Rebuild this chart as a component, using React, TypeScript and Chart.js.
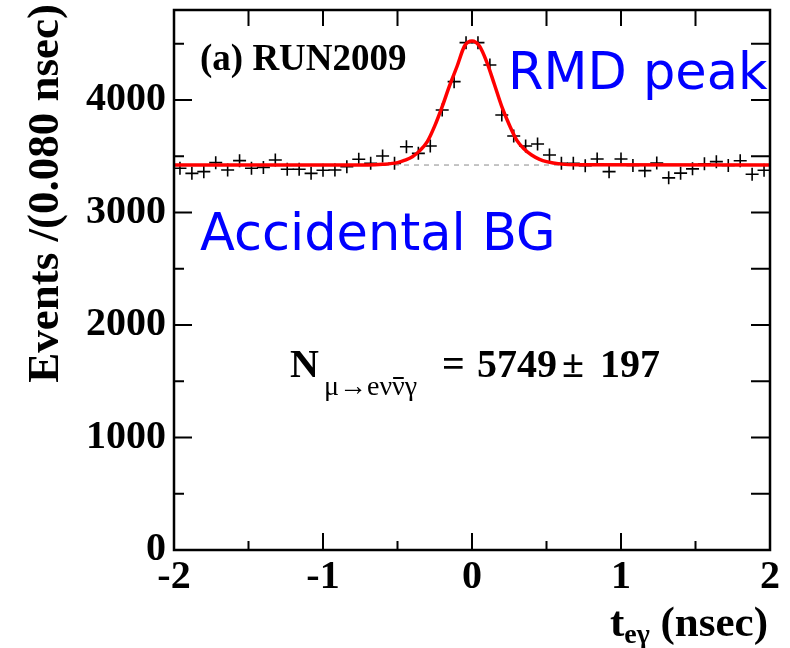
import React, { useEffect, useRef } from "react";
import { Chart, registerables } from "chart.js";

Chart.register(...registerables);

// ---- data ----
const binCenters = [
  -1.96, -1.88, -1.8, -1.72, -1.64, -1.56, -1.48, -1.4, -1.32, -1.24,
  -1.16, -1.08, -1.0, -0.92, -0.84, -0.76, -0.68, -0.6, -0.52, -0.44,
  -0.36, -0.28, -0.2, -0.12, -0.04, 0.04, 0.12, 0.2, 0.28, 0.36,
  0.44, 0.52, 0.6, 0.68, 0.76, 0.84, 0.92, 1.0, 1.08, 1.16,
  1.24, 1.32, 1.4, 1.48, 1.56, 1.64, 1.72, 1.8, 1.88, 1.96,
];
const eventCounts = [
  3393, 3348, 3363, 3443, 3378, 3461, 3393, 3401, 3467, 3384,
  3384, 3348, 3375, 3378, 3407, 3473, 3437, 3502, 3437, 3585,
  3526, 3591, 3911, 4163, 4510, 4510, 4311, 3867, 3680, 3591,
  3609, 3511, 3437, 3437, 3416, 3476, 3363, 3476, 3418, 3372,
  3440, 3308, 3350, 3388, 3434, 3452, 3418, 3460, 3340, 3375,
];
const fitX = [
  -2, -0.7, -0.6, -0.5, -0.45, -0.4, -0.35, -0.3, -0.25, -0.2, -0.15, -0.1, -0.05,
  0, 0.05, 0.1, 0.15, 0.2, 0.25, 0.3, 0.35, 0.4, 0.45, 0.5, 0.6, 0.7, 2,
];
const fitY = [
  3422, 3423, 3428, 3443, 3465, 3496, 3550, 3630, 3770, 3941, 4130, 4300, 4480,
  4525, 4480, 4335, 4140, 3941, 3780, 3644, 3565, 3511, 3475, 3452, 3430, 3424, 3422,
];
const baselineX = [-2, 2];
const baselineY = [3422, 3422];

const xMajorTicks = [-2, -1, 0, 1, 2];
const xMinorTicks = [-1.5, -0.5, 0.5, 1.5];
const yMajorTicks = [0, 1000, 2000, 3000, 4000];
const yMinorTicks = [500, 1500, 2500, 3500, 4500];
const xRange = [-2, 2];
const yRange = [0, 4800];

const SERIF = '"Liberation Serif", "DejaVu Serif", serif';
const SANS = '"DejaVu Sans", Verdana, sans-serif';

const rootPlugin = {
  id: "rootFrame",
  afterDraw(chart: any) {
    const { ctx, chartArea: a, scales } = chart;
    const x = scales.x;
    const y = scales.y;
    ctx.save();
    ctx.strokeStyle = "#000";
    // tick marks (inside)
    ctx.lineWidth = 2;
    ctx.beginPath();
    const tickX = (v: number, bottomLen: number, topLen: number) => {
      const px = x.getPixelForValue(v);
      ctx.moveTo(px, a.bottom);
      ctx.lineTo(px, a.bottom - bottomLen);
      ctx.moveTo(px, a.top);
      ctx.lineTo(px, a.top + topLen);
    };
    xMajorTicks.forEach((v) => tickX(v, 17, 16));
    xMinorTicks.forEach((v) => tickX(v, 9, 16));
    const tickY = (v: number, leftLen: number, rightLen: number) => {
      const py = y.getPixelForValue(v);
      ctx.moveTo(a.left, py);
      ctx.lineTo(a.left + leftLen, py);
      ctx.moveTo(a.right, py);
      ctx.lineTo(a.right - rightLen, py);
    };
    yMajorTicks.forEach((v) => tickY(v, 18, 19));
    yMinorTicks.forEach((v) => tickY(v, 10, 19));
    ctx.stroke();
    // frame
    ctx.lineWidth = 2.5;
    ctx.strokeRect(a.left, a.top, a.right - a.left, a.bottom - a.top);

    ctx.fillStyle = "#000";
    ctx.textBaseline = "alphabetic";

    // y axis title
    ctx.save();
    ctx.translate(58, 4);
    ctx.rotate(-Math.PI / 2);
    ctx.font = `bold 45px ${SERIF}`;
    ctx.textAlign = "right";
    ctx.fillText("Events /(0.080 nsec)", 0, 0);
    ctx.restore();

    // x axis title: t_{eγ} (nsec), right aligned
    ctx.textAlign = "left";
    const big = `bold 43px ${SERIF}`;
    const sub = `bold 28px ${SERIF}`;
    ctx.font = big;
    const wT = ctx.measureText("t").width;
    const wRest = ctx.measureText(" (nsec)").width;
    ctx.font = sub;
    const wSub = ctx.measureText("eγ").width;
    let xs = a.right - 2 - (wT + wSub + wRest);
    const base = 636;
    ctx.font = big;
    ctx.fillText("t", xs, base);
    xs += wT;
    ctx.font = sub;
    ctx.fillText("eγ", xs, base + 7);
    xs += wSub;
    ctx.font = big;
    ctx.fillText(" (nsec)", xs, base);

    // (a) RUN2009
    ctx.font = `bold 37px ${SERIF}`;
    ctx.fillText("(a) RUN2009", 200, 70);

    // N formula
    const nb = 377;
    const sb = 395;
    ctx.font = `bold 40px ${SERIF}`;
    ctx.fillText("N", 290, nb);
    let nx = 324;
    ctx.font = `28px ${SERIF}`;
    const s1 = "μ→eν";
    ctx.fillText(s1, nx, sb);
    nx += ctx.measureText(s1).width;
    const wNu = ctx.measureText("ν").width;
    ctx.fillText("ν", nx, sb);
    ctx.lineWidth = 2;
    ctx.beginPath();
    ctx.moveTo(nx + 1, sb - 17);
    ctx.lineTo(nx + wNu - 1, sb - 17);
    ctx.stroke();
    nx += wNu;
    ctx.fillText("γ", nx, sb);
    ctx.font = `bold 40px ${SERIF}`;
    ctx.fillText("=", 442, nb);
    ctx.fillText("5749", 477, nb);
    ctx.fillText("±", 562, nb);
    ctx.fillText("197", 600, nb);

    // blue labels
    ctx.fillStyle = "#0000ff";
    ctx.font = `51px ${SANS}`;
    ctx.fillText("RMD peak", 508, 89);
    ctx.fillText("Accidental BG", 200, 250);

    ctx.restore();
  },
};

export default function App() {
  const ref = useRef<HTMLCanvasElement | null>(null);
  useEffect(() => {
    if (!ref.current) return;
    const chart = new Chart(ref.current, {
      type: "scatter",
      data: {
        datasets: [
          {
            label: "fit",
            data: fitX.map((v, i) => ({ x: v, y: fitY[i] })),
            showLine: true,
            borderColor: "#ff0000",
            borderWidth: 3.5,
            pointRadius: 0,
            cubicInterpolationMode: "monotone",
            order: 0,
          },
          {
            label: "data",
            data: binCenters.map((v, i) => ({ x: v, y: eventCounts[i] })),
            showLine: false,
            pointStyle: "cross",
            pointRadius: 6.5,
            borderColor: "#000",
            backgroundColor: "#000",
            borderWidth: 1.6,
            order: 1,
          },
          {
            label: "accidental",
            data: baselineX.map((v, i) => ({ x: v, y: baselineY[i] })),
            showLine: true,
            borderColor: "#8a8a8a",
            borderWidth: 1,
            borderDash: [5, 5],
            pointRadius: 0,
            order: 2,
          },
        ],
      },
      options: {
        animation: false,
        responsive: false,
        devicePixelRatio: 1,
        layout: { padding: { top: 10, right: 20, left: 0, bottom: 0 } },
        plugins: { legend: { display: false }, tooltip: { enabled: false } },
        scales: {
          x: {
            type: "linear",
            min: xRange[0],
            max: xRange[1],
            grid: { display: false, drawTicks: false },
            border: { display: false },
            afterBuildTicks: (s: any) => {
              s.ticks = xMajorTicks.map((v) => ({ value: v }));
            },
            afterFit: (s: any) => {
              s.height = 98;
              s.paddingLeft = 0;
              s.paddingRight = 0;
            },
            ticks: {
              color: "#000",
              padding: 4,
              font: { family: SERIF, size: 40, weight: "bold" },
              callback: (v: any) => String(v),
            },
          },
          y: {
            type: "linear",
            min: yRange[0],
            max: yRange[1],
            grid: { display: false, drawTicks: false },
            border: { display: false },
            afterBuildTicks: (s: any) => {
              s.ticks = yMajorTicks.map((v) => ({ value: v }));
            },
            afterFit: (s: any) => {
              s.width = 174;
              s.paddingTop = 0;
              s.paddingBottom = 0;
            },
            ticks: {
              color: "#000",
              padding: 8,
              font: { family: SERIF, size: 40, weight: "bold" },
              callback: (v: any) => String(v),
            },
          },
        },
      },
      plugins: [rootPlugin],
    });
    return () => chart.destroy();
  }, []);
  return (
    <div style={{ position: "absolute", left: 0, top: 0, width: 790, height: 648, background: "#fff" }}>
      <canvas ref={ref} width={790} height={648} />
    </div>
  );
}
